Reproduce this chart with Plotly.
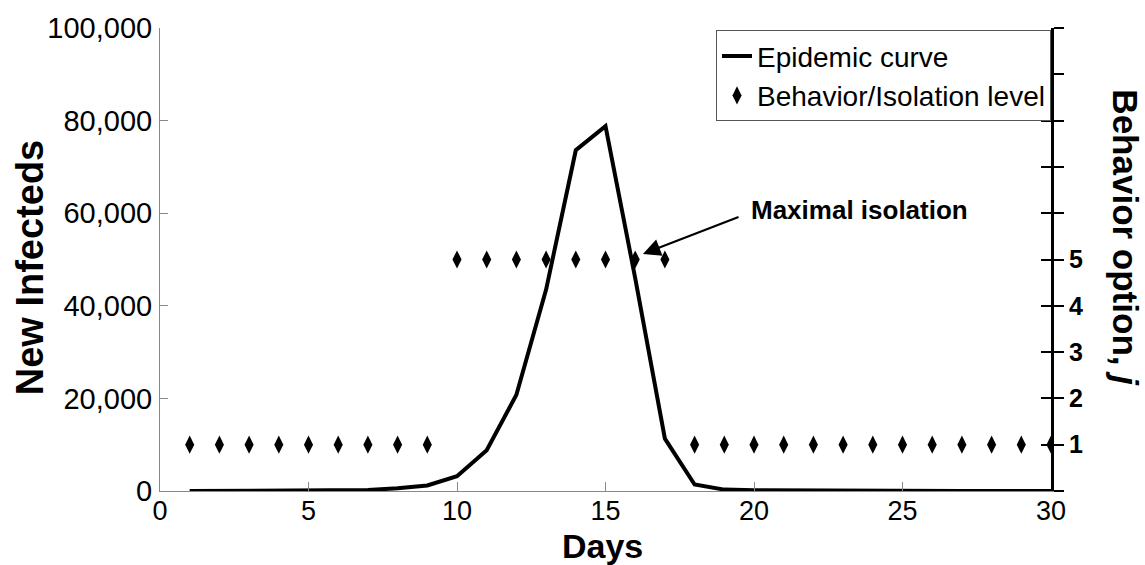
import plotly.graph_objects as go

days = list(range(1, 31))
new_infected = [0, 0, 0, 0, 0, 50, 200, 600, 1200, 3200, 8800, 20800, 43500, 73600, 78800,
                46000, 11300, 1400, 300, 150, 100, 80, 50, 30, 20, 10, 0, 0, 0, 0]
behavior_days = list(range(1, 31))
behavior_level = [1, 1, 1, 1, 1, 1, 1, 1, 1, 5, 5, 5, 5, 5, 5, 5, 5,
                  1, 1, 1, 1, 1, 1, 1, 1, 1, 1, 1, 1, 1]
left_ticks = [0, 20000, 40000, 60000, 80000, 100000]
right_tickvals = list(range(0, 11))
right_ticktext = ["", "1", "2", "3", "4", "5", "", "", "", "", ""]
x_ticks = [0, 5, 10, 15, 20, 25, 30]

FONT = "Liberation Sans, Arial, sans-serif"

fig = go.Figure()
fig.add_trace(go.Scatter(x=days, y=new_infected, mode="lines", name="Epidemic curve",
                         line=dict(color="black", width=4), yaxis="y"))
fig.add_trace(go.Scatter(x=behavior_days, y=behavior_level, mode="markers",
                         name="Behavior/Isolation level",
                         marker=dict(symbol="diamond-tall", size=13, color="black"),
                         yaxis="y2"))
fig.add_trace(go.Scatter(x=behavior_days, y=behavior_level, mode="markers",
                         marker=dict(opacity=0), showlegend=False, hoverinfo="skip",
                         yaxis="y3"))

fig.update_layout(
    width=1145, height=565,
    margin=dict(l=160, r=94, t=25, b=74),
    paper_bgcolor="white", plot_bgcolor="white",
    font=dict(family=FONT, color="black"),
    showlegend=True,
    legend=dict(x=1.0, xanchor="right", y=0.995, yanchor="top",
                bgcolor="white", bordercolor="#555", borderwidth=1,
                font=dict(size=28, family=FONT), tracegroupgap=0),
    xaxis=dict(range=[0, 30], tickvals=x_ticks, ticks="inside", ticklen=9,
               tickcolor="#888", tickwidth=1, showline=True, linecolor="#888",
               linewidth=1, showgrid=False, zeroline=False, ticklabelstandoff=-4,
               tickfont=dict(size=27, family=FONT)),
    yaxis=dict(range=[0, 100000], tickvals=left_ticks, tickformat=",",
               ticks="inside", ticklen=8, tickcolor="#888", tickwidth=1,
               showline=True, linecolor="#888", linewidth=1, showgrid=False,
               zeroline=False, ticklabelstandoff=1,
               tickfont=dict(size=29, family=FONT)),
    yaxis2=dict(range=[0, 10], tickvals=right_tickvals, ticktext=right_ticktext,
                overlaying="y", side="right", anchor="x",
                ticks="outside", ticklen=10, tickwidth=2, tickcolor="black",
                showline=True, linecolor="black", linewidth=3, showgrid=False,
                zeroline=False,
                tickfont=dict(size=25, family=FONT, weight="bold")),
    yaxis3=dict(range=[0, 10], tickvals=right_tickvals, showticklabels=False,
                overlaying="y", side="right", anchor="x",
                ticks="inside", ticklen=10, tickwidth=2, tickcolor="black",
                showline=False, showgrid=False, zeroline=False),
)

fig.add_annotation(x=16.26, y=51200, ax=19.53, ay=59300, xref="x", yref="y",
                   axref="x", ayref="y", text="", showarrow=True,
                   arrowhead=2, arrowsize=1.6, arrowwidth=2.2, arrowcolor="black")
fig.add_annotation(x=19.83, y=60800, xref="x", yref="y", text="<b>Maximal isolation</b>",
                   showarrow=False, xanchor="left", yanchor="middle",
                   font=dict(size=26, family=FONT))
fig.add_annotation(x=-0.146, y=0.483, xref="paper", yref="paper", text="<b>New Infecteds</b>",
                   textangle=-90, showarrow=False, xanchor="center", yanchor="middle",
                   font=dict(size=38, family=FONT))
fig.add_annotation(x=0.497, y=-0.119, xref="paper", yref="paper", text="<b>Days</b>",
                   showarrow=False, xanchor="center", yanchor="middle",
                   font=dict(size=34, family=FONT))
fig.add_annotation(x=1.084, y=0.546, xref="paper", yref="paper",
                   text="<b>Behavior option, <i>j</i></b>",
                   textangle=90, showarrow=False, xanchor="center", yanchor="middle",
                   font=dict(size=35, family=FONT))

fig.write_html("out.html")
